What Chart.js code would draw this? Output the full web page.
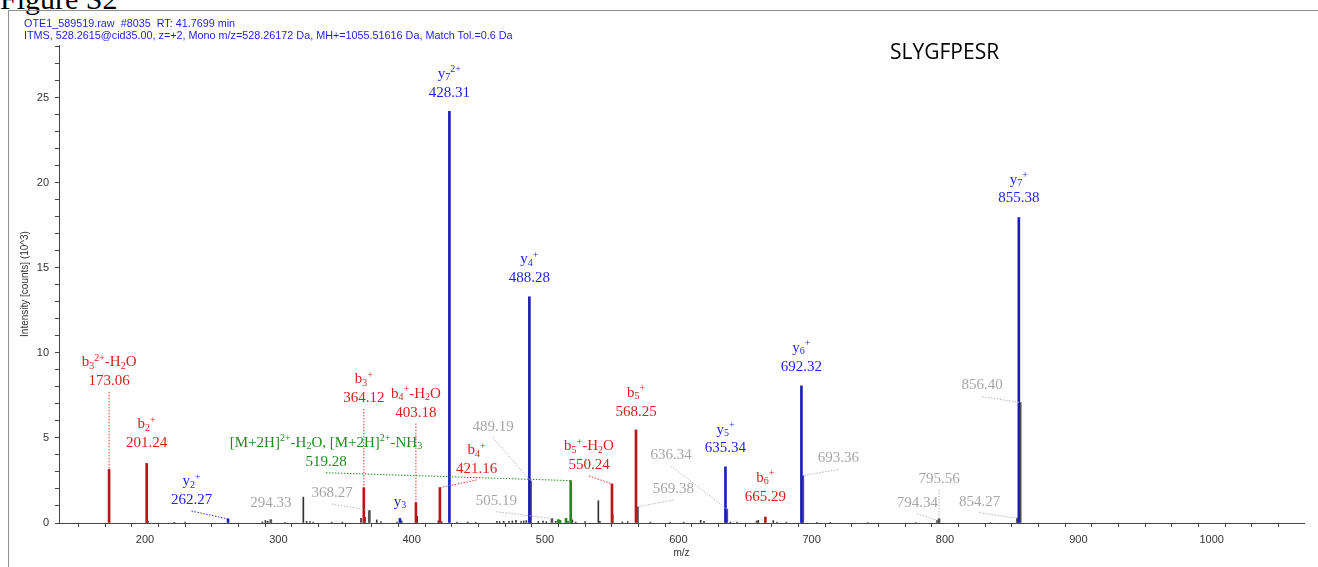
<!DOCTYPE html>
<html>
<head>
<meta charset="utf-8">
<script src="https://cdn.jsdelivr.net/npm/chart.js@4.4.1/dist/chart.umd.min.js"></script>
<style>
  html, body { margin: 0; padding: 0; background: #fff; }
  body { width: 1318px; height: 567px; position: relative; overflow: hidden; }
  #fig { position: absolute; left: 0; top: -16px; font: 30px "Liberation Serif"; line-height: 30px; color: #000; white-space: nowrap; }
  #frame { position: absolute; left: 8px; top: 10px; width: 1330px; height: 600px; border-top: 1px solid #8f8f8f; border-left: 1px solid #8f8f8f; }
  #hdr { position: absolute; left: 24px; top: 17px; font: 10.8px "Liberation Sans"; line-height: 12px; color: #1f1fe0; white-space: pre; }
  #seq { position: absolute; left: 890px; top: 41px; font: 21px "Open Sans"; line-height: 21px; color: #000; }
  #spec { position: absolute; left: 0; top: 0; }
</style>
</head>
<body>
<div id="fig">Figure S2</div>
<div id="frame"></div>
<canvas id="spec" width="1318" height="567"></canvas>
<div id="hdr">OTE1_589519.raw  #8035  RT: 41.7699 min
ITMS, 528.2615@cid35.00, z=+2, Mono m/z=528.26172 Da, MH+=1055.51616 Da, Match Tol.=0.6 Da</div>
<div id="seq">SLYGFPESR</div>
<script>
// Spectrum of SLYGFPESR, intensities in 10^3 counts

// y-ion series
const yIonMz   = [262.27, 391.2, 428.31, 488.28, 635.34, 692.32, 855.38];
const yIonInt  = [0.24, 0.27, 24.2, 13.3, 3.3, 8.06, 17.95];
const yIonName = ['y₂⁺', 'y₃', 'y₇²⁺', 'y₄⁺', 'y₅⁺', 'y₆⁺', 'y₇⁺'];

// b-ion series
const bIonMz   = [173.06, 201.24, 364.12, 403.18, 421.16, 550.24, 568.25, 665.29];
const bIonInt  = [3.15, 3.5, 2.08, 1.2, 2.08, 2.3, 5.47, 0.35];
const bIonName = ['b₃²⁺-H₂O', 'b₂⁺', 'b₃⁺', 'b₄⁺-H₂O', 'b₄⁺', 'b₅⁺-H₂O', 'b₅⁺', 'b₆⁺'];

// precursor neutral-loss cluster
const precMz   = [510.0, 511.3, 515.75, 517.0, 519.28];
const precInt  = [0.2, 0.15, 0.27, 0.1, 2.49];
const precName = [null, null, null, null, '[M+2H]²⁺-H₂O, [M+2H]²⁺-NH₃'];

// unassigned peaks that carry an m/z label
const otherMz  = [294.33, 368.27, 489.19, 505.19, 569.38, 636.34, 693.36, 794.34, 795.56, 854.27, 856.40];
const otherInt = [0.2, 0.74, 2.47, 0.26, 0.95, 0.82, 2.78, 0.15, 0.25, 0.28, 7.08];

// remaining unlabeled peaks
const noiseMz  = [202.3, 222, 230, 288, 290.3, 292, 305, 318.75, 321.2, 323.7, 326, 340, 348, 362, 365,
                  373.8, 377, 389, 392.5, 404.2, 420, 422.5, 434, 442, 448, 464, 466, 469, 473, 475.5,
                  478.25, 482, 484, 486, 495, 498.5, 501, 508, 520.5, 523, 530, 540, 541.2, 550.75, 558,
                  562, 579, 593.75, 604, 616.75, 619.25, 639, 644, 658.75, 660, 671.25, 674, 681, 704,
                  714, 742, 778, 834];
const noiseInt = [0.10, 0.04, 0.05, 0.06, 0.15, 0.10, 0.04, 1.52, 0.10, 0.08, 0.05, 0.05, 0.05, 0.27, 0.33,
                  0.18, 0.08, 0.06, 0.12, 0.39, 0.12, 0.08, 0.05, 0.06, 0.05, 0.10, 0.08, 0.10, 0.10, 0.12,
                  0.16, 0.08, 0.12, 0.14, 0.10, 0.12, 0.08, 0.10, 0.18, 0.06, 0.08, 1.31, 0.10, 0.49, 0.06,
                  0.08, 0.05, 0.05, 0.05, 0.16, 0.10, 0.06, 0.05, 0.12, 0.15, 0.14, 0.06, 0.05, 0.04,
                  0.04, 0.03, 0.03, 0.03];

// axis ranges and tick spacing
const xRange = [135.5, 1069.25];
const yRange = [0, 28.1];
const xMinorStep = 20, xMajorStep = 100;
const yMinorStep = 1,  yMajorStep = 5;

// ---------- label placement (anchor of the value line, in axis units; null = above the peak) ----------
const labelPlacement = [
  { set: 'b', i: 0, at: [null, 8.35],  lead: true },
  { set: 'b', i: 1, at: [null, 4.7],   lead: false },
  { set: 'b', i: 2, at: [null, 7.35],  lead: true },
  { set: 'b', i: 3, at: [null, 6.49],  lead: true },
  { set: 'b', i: 4, at: [448.75, 3.18], lead: true },
  { set: 'b', i: 5, at: [533, 3.41],   lead: true },
  { set: 'b', i: 6, at: [null, 6.55],  lead: false },
  { set: 'b', i: 7, at: [null, 1.55],  lead: false },
  { set: 'y', i: 0, at: [234.9, 1.35], lead: true },
  { set: 'y', i: 1, at: [null, 1.22],  lead: false, nameOnly: true },
  { set: 'y', i: 2, at: [null, 25.3],  lead: false },
  { set: 'y', i: 3, at: [null, 14.4],  lead: false },
  { set: 'y', i: 4, at: [null, 4.39],  lead: false },
  { set: 'y', i: 5, at: [null, 9.19],  lead: false },
  { set: 'y', i: 6, at: [null, 19.1],  lead: false },
  { set: 'p', i: 4, at: [335.75, 3.6], lead: true },
  { set: 'o', i: 0, at: [null, 1.19],  lead: false },
  { set: 'o', i: 1, at: [340.25, 1.76], lead: true },
  { set: 'o', i: 2, at: [461, 5.65],   lead: true },
  { set: 'o', i: 3, at: [463.6, 1.31], lead: true },
  { set: 'o', i: 4, at: [596.2, 2.0],  lead: true },
  { set: 'o', i: 5, at: [594.5, 4.0],  lead: true },
  { set: 'o', i: 6, at: [720, 3.8],    lead: true },
  { set: 'o', i: 7, at: [779.2, 1.19], lead: true },
  { set: 'o', i: 8, at: [null, 2.59],  lead: true },
  { set: 'o', i: 9, at: [825.9, 1.25], lead: true },
  { set: 'o', i: 10, at: [827.75, 8.08], lead: true }
];

const series = {
  y: { mz: yIonMz, int: yIonInt, name: yIonName, text: '#2222ee', lead: '#2a2af0', bar: '#1d1dbf' },
  b: { mz: bIonMz, int: bIonInt, name: bIonName, text: '#d92020', lead: '#e03a3a', bar: '#b81818' },
  p: { mz: precMz, int: precInt, name: precName, text: '#218a21', lead: '#1e8c1e', bar: '#1c8a1c' },
  o: { mz: otherMz, int: otherInt, name: null, text: '#a6a6a6', lead: '#b5b5b5', bar: '#555555' }
};

function points(mz, int) { return mz.map((m, k) => ({ x: m, y: int[k] })); }

// ---------- ion-name typesetting: sub/superscript characters drawn small and shifted ----------
const SUB_DIGITS = '₀₁₂₃₄₅₆₇₈₉';
const SUP_DIGITS = '⁰¹²³⁴⁵⁶⁷⁸⁹';
const MAIN_FONT = '15px "Liberation Serif", "DejaVu Serif"';
const SMALL_FONT = '10px "Liberation Serif", "DejaVu Serif"';

function splitRuns(str) {
  const out = [];
  for (const ch of str) {
    let kind = 'n', c = ch, k;
    if ((k = SUB_DIGITS.indexOf(ch)) >= 0) { kind = 'sub'; c = String(k); }
    else if ((k = SUP_DIGITS.indexOf(ch)) >= 0) { kind = 'sup'; c = String(k); }
    else if (ch === '⁺') { kind = 'sup'; c = '+'; }
    const last = out[out.length - 1];
    if (last && last.kind === kind) last.t += c; else out.push({ t: c, kind });
  }
  return out;
}

function drawRich(ctx, str, cx, cy) {
  const runs = splitRuns(str);
  let w = 0;
  for (const r of runs) {
    ctx.font = r.kind === 'n' ? MAIN_FONT : SMALL_FONT;
    r.w = ctx.measureText(r.t).width;
    w += r.w;
  }
  let x = cx - w / 2;
  ctx.textAlign = 'left';
  for (const r of runs) {
    ctx.font = r.kind === 'n' ? MAIN_FONT : SMALL_FONT;
    const dy = r.kind === 'sub' ? 3.5 : r.kind === 'sup' ? -4.5 : 0;
    ctx.fillText(r.t, x, cy + dy);
    x += r.w;
  }
}

const ionLabels = {
  id: 'ionLabels',
  afterDatasetsDraw(chart) {
    const { ctx, scales: { x, y } } = chart;
    ctx.save();
    ctx.textBaseline = 'middle';
    for (const p of labelPlacement) {
      const s = series[p.set];
      const mz = s.mz[p.i], it = s.int[p.i];
      const lx = x.getPixelForValue(p.at[0] === null ? mz : p.at[0]);
      const ly = y.getPixelForValue(p.at[1]);
      if (p.lead) {
        ctx.save();
        ctx.strokeStyle = s.lead;
        ctx.lineWidth = 1;
        ctx.setLineDash([1.5, 1.5]);
        ctx.beginPath();
        ctx.moveTo(lx, ly + 11);
        ctx.lineTo(x.getPixelForValue(mz), y.getPixelForValue(it));
        ctx.stroke();
        ctx.restore();
      }
      ctx.fillStyle = s.text;
      const name = s.name ? s.name[p.i] : null;
      if (p.nameOnly) {
        drawRich(ctx, name, lx, ly);
      } else {
        drawRich(ctx, mz.toFixed(2), lx, ly);
        if (name) drawRich(ctx, name, lx, ly - 18.5);
      }
    }
    ctx.restore();
  }
};

const tickFont = { family: 'Liberation Sans', size: 11 };

new Chart(document.getElementById('spec'), {
  type: 'bar',
  data: {
    datasets: [
      { data: points(yIonMz, yIonInt), backgroundColor: series.y.bar, barThickness: 2 },
      { data: points(bIonMz, bIonInt), backgroundColor: series.b.bar, barThickness: 2 },
      { data: points(precMz, precInt), backgroundColor: series.p.bar, barThickness: 2 },
      { data: points(otherMz, otherInt), backgroundColor: series.o.bar, barThickness: 2 },
      { data: points(noiseMz, noiseInt), backgroundColor: '#333333', barThickness: 1 }
    ]
  },
  options: {
    responsive: false,
    animation: false,
    devicePixelRatio: 1,
    layout: { padding: { left: 19, right: 14, top: 45, bottom: 8 } },
    plugins: { legend: { display: false }, tooltip: { enabled: false } },
    datasets: { bar: { grouped: false, borderWidth: 0 } },
    scales: {
      x: {
        type: 'linear', min: xRange[0], max: xRange[1], offset: false,
        grid: { drawOnChartArea: false, drawTicks: true, tickLength: 4, color: '#444' },
        border: { color: '#444', width: 1 },
        ticks: {
          stepSize: xMinorStep, includeBounds: false, autoSkip: false, maxRotation: 0,
          padding: 6, color: '#333', font: tickFont,
          callback: v => (v % xMajorStep === 0 ? String(v) : '')
        },
        title: { display: true, text: 'm/z', color: '#333', font: { family: 'Liberation Sans', size: 10 }, padding: 0 },
        afterFit: s => { s.height = 36; }
      },
      y: {
        min: yRange[0], max: yRange[1],
        grid: { drawOnChartArea: false, drawTicks: true, tickLength: 4, color: '#444' },
        border: { color: '#444', width: 1 },
        ticks: {
          stepSize: yMinorStep, includeBounds: false, autoSkip: false,
          padding: 6, color: '#333', font: tickFont,
          callback: v => (v % yMajorStep === 0 ? String(v) : '')
        },
        title: { display: true, text: 'Intensity [counts] (10^3)', color: '#333', font: { family: 'Liberation Sans', size: 10 }, padding: 0 },
        afterFit: s => { s.width = 40; }
      }
    }
  },
  plugins: [ionLabels]
});
</script>
</body>
</html>
